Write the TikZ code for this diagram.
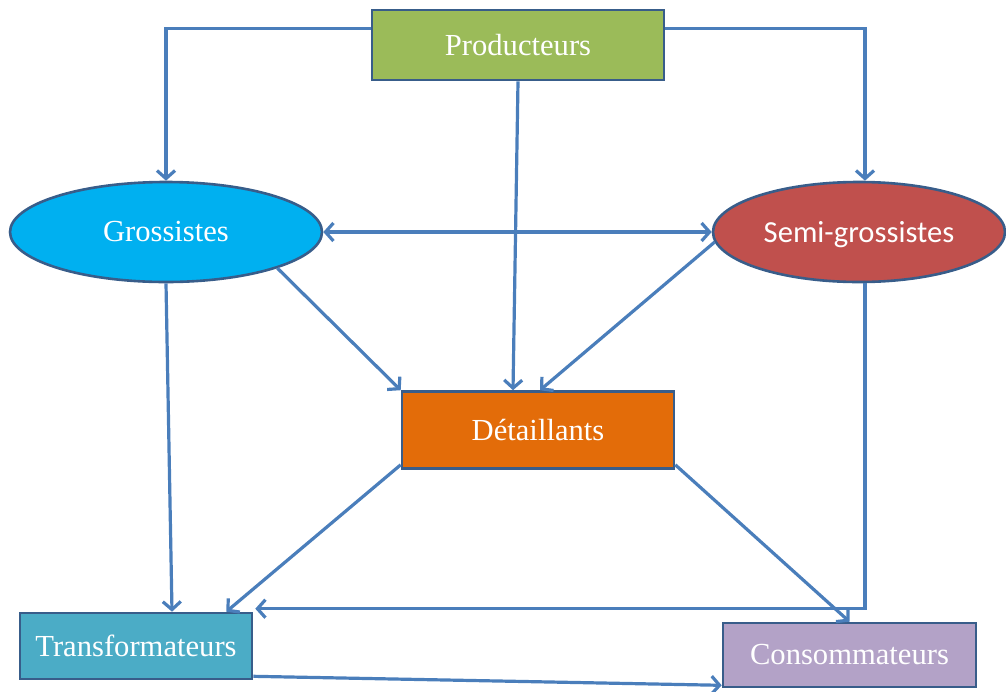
\documentclass[tikz,border=0pt]{standalone}
\usepackage{fontspec}
\setmainfont{Liberation Serif}
\newfontfamily\calibri{Carlito}
\usepackage{tikz}
\usepackage{xcolor}
\usetikzlibrary{arrows.meta,shapes.geometric}
\definecolor{vertProd}{HTML}{9BBB59}
\definecolor{bleuGros}{HTML}{00B0F0}
\definecolor{rougeSemi}{HTML}{C0504D}
\definecolor{orangeDet}{HTML}{E36C09}
\definecolor{bleuTrans}{HTML}{4BACC6}
\definecolor{mauveCons}{HTML}{B3A2C7}
\definecolor{bordure}{HTML}{385D8A}
\definecolor{trait}{HTML}{4A7EBB}
\tikzset{
Boite/.style={
 rectangle, 
 draw=bordure, 
 line width=1.3pt, 
 text=white, 
 font=\fontsize{15.3}{18}\selectfont, 
 inner sep=0pt
 },
Ovale/.style={
 ellipse, 
 draw=bordure, 
 line width=1.3pt, 
 text=white, 
 font=\fontsize{15.3}{18}\selectfont, 
 inner sep=0pt
 },
Fleche/.style={
 draw=trait, 
 line width=1.6pt, 
 -{Straight Barb[length=4pt,width=9pt]}
 },
DoubleFleche/.style={
 draw=trait, 
 line width=1.6pt, 
 {Straight Barb[length=4pt,width=9pt]}-{Straight Barb[length=4pt,width=9pt]}
 }
}
\begin{document}
\begin{tikzpicture}[x=0.5pt,y=-0.5pt]
\useasboundingbox (0,0) rectangle (1006,691);
\node[Boite,fill=vertProd,minimum width=146pt,minimum height=35pt] (prod) at (518,45) {Producteurs};
\node[Ovale,fill=bleuGros,minimum width=156pt,minimum height=50pt] (gros) at (166,232) {Grossistes};
\node[Ovale,fill=rougeSemi,minimum width=146pt,minimum height=50pt,font=\calibri\fontsize{15.3}{18}\selectfont,text depth=0pt] (semi) at (859,232) {Semi-grossistes};
\node[Boite,fill=orangeDet,minimum width=136pt,minimum height=38.5pt] (det) at (538,430) {Détaillants};
\node[Boite,fill=bleuTrans,minimum width=116pt,minimum height=33pt] (trans) at (136,646) {Transformateurs};
\node[Boite,fill=mauveCons,minimum width=126.5pt,minimum height=32pt] (cons) at (849.5,655) {Consommateurs};
% depuis les producteurs
\draw[Fleche] ([yshift=-10pt]prod.north west) -| (gros.north);
\draw[Fleche] ([yshift=-10pt]prod.north east) -| ([xshift=3pt]semi.north);
\draw[Fleche] (prod.south) -- ([xshift=-12.5pt]det.north);
% grossistes et semi-grossistes
\draw[DoubleFleche] (gros.east) -- (semi.west);
\draw[Fleche] (gros.-18) -- (det.north west);
\draw[Fleche] (semi.184) -- ([xshift=1pt]det.north);
\draw[Fleche] (gros.south) -- ([xshift=18pt]trans.north);
\draw[Fleche] ([xshift=3pt]semi.south) |- ([xshift=1pt,yshift=1.5pt]trans.north east);
% depuis les detaillants
\draw[Fleche] ([yshift=2.5pt]det.south west) -- ([xshift=-13.5pt]trans.north east);
\draw[Fleche] ([yshift=2.5pt]det.south east) -- (cons.north);
\draw[Fleche] ([yshift=2pt]trans.south east) -- ([yshift=1.5pt]cons.south west);
\end{tikzpicture}
\end{document}
